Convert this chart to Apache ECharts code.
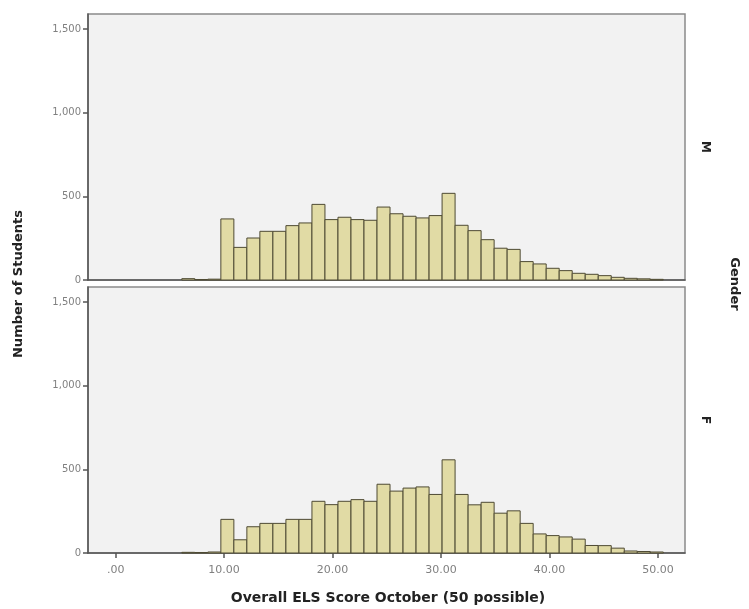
<!DOCTYPE html>
<html>
<head>
<meta charset="utf-8">
<script src="https://cdn.jsdelivr.net/npm/echarts@6/dist/echarts.min.js"></script>
<style>html,body{margin:0;padding:0;background:#fff;}#c{width:749px;height:609px;}</style>
</head>
<body>
<div id="c"></div>
<script>
// Histogram bins (left edges) and bin width
const binStarts = [6.1,7.3,8.5,9.7,10.9,12.1,13.3,14.5,15.7,16.9,18.1,19.3,20.5,21.7,22.9,24.1,25.3,26.5,27.7,28.9,30.1,31.3,32.5,33.7,34.9,36.1,37.3,38.5,39.7,40.9,42.1,43.3,44.5,45.7,46.9,48.1,49.3];
const binWidth = 1.2;
const countsM = [8,3,5,365,195,251,291,291,325,341,452,361,375,361,357,436,396,381,371,385,518,327,295,241,190,183,110,96,70,56,40,34,26,16,10,7,4];
const countsF = [4,3,6,201,79,157,177,177,201,201,309,289,309,319,309,411,370,388,395,350,557,350,288,303,238,252,177,114,104,96,83,45,44,29,12,9,6];
const xTicks = [0,10,20,30,40,50];
const yTicks = [0,500,1000,1500];
const panelLabels = ['M','F'];
const xTitle = 'Overall ELS Score October (50 possible)';
const yTitle = 'Number of Students';
const facetTitle = 'Gender';

const chart = echarts.init(document.getElementById('c'), null, {renderer:'canvas'});
const font = 'DejaVu Sans';
function mkData(counts){ return binStarts.map((s,i)=>[s, s+binWidth, counts[i]]); }
function renderItem(params, api){
  const p0 = api.coord([api.value(0), api.value(2)]);
  const p1 = api.coord([api.value(1), 0]);
  return {type:'rect', shape:{x:p0[0], y:p0[1], width:p1[0]-p0[0], height:p1[1]-p0[1]},
    style:{fill:'#e1dba5', stroke:'#4e4a33', lineWidth:1}};
}
const grids = [
  {left:88, top:14, width:597, height:266},
  {left:88, top:287, width:597, height:266}
].map(g=>Object.assign(g,{show:true, backgroundColor:'#f2f2f2', borderColor:'#8a8a8a', borderWidth:1.5}));
function xAxis(i, showLabels){
  return {type:'value', gridIndex:i, min:-2.55, max:52.5,
    axisLine:{show:true, onZero:false, lineStyle:{color:'#555', width:1.5}},
    axisTick:{show:showLabels, customValues:xTicks, length:5, inside:false, lineStyle:{color:'#555', width:1.5}},
    axisLabel:{show:showLabels, customValues:xTicks, color:'#808080', fontFamily:font, fontSize:11, margin:12,
      formatter:v=> v===0 ? '.00' : v.toFixed(2)},
    splitLine:{show:false}};
}
function yAxis(i){
  return {type:'value', gridIndex:i, min:0, max:1590,
    axisLine:{show:true, onZero:false, lineStyle:{color:'#555', width:1.5}},
    axisTick:{show:true, customValues:yTicks, length:5, lineStyle:{color:'#555', width:1.5}},
    axisLabel:{customValues:yTicks, color:'#808080', fontFamily:font, fontSize:10, margin:7,
      formatter:v=> v.toLocaleString('en-US')},
    splitLine:{show:false}};
}
chart.setOption({
  animation:false,
  grid:grids,
  xAxis:[xAxis(0,false), xAxis(1,true)],
  yAxis:[yAxis(0), yAxis(1)],
  series:[
    {type:'custom', xAxisIndex:0, yAxisIndex:0, renderItem, data:mkData(countsM), encode:{x:[0,1], y:2}},
    {type:'custom', xAxisIndex:1, yAxisIndex:1, renderItem, data:mkData(countsF), encode:{x:[0,1], y:2}}
  ],
  graphic:[
    {type:'text', x:388, y:598, style:{text:xTitle, font:'bold 14px "DejaVu Sans"', fill:'#222', textAlign:'center', textVerticalAlign:'middle'}},
    {type:'text', x:19, y:284, rotation:Math.PI/2, style:{text:yTitle, font:'bold 13px "DejaVu Sans"', fill:'#222', textAlign:'center', textVerticalAlign:'middle'}},
    {type:'text', x:705, y:147, rotation:-Math.PI/2, style:{text:panelLabels[0], font:'bold 12px "DejaVu Sans"', fill:'#222', textAlign:'center', textVerticalAlign:'middle'}},
    {type:'text', x:705, y:420, rotation:-Math.PI/2, style:{text:panelLabels[1], font:'bold 12px "DejaVu Sans"', fill:'#222', textAlign:'center', textVerticalAlign:'middle'}},
    {type:'text', x:734, y:284, rotation:-Math.PI/2, style:{text:facetTitle, font:'bold 13px "DejaVu Sans"', fill:'#222', textAlign:'center', textVerticalAlign:'middle'}}
  ]
});
</script>
</body>
</html>
